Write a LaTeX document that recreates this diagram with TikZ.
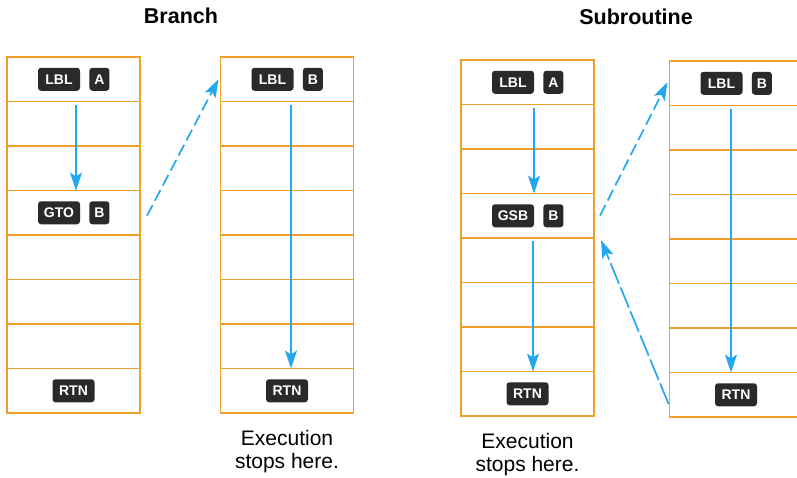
\documentclass[tikz,border=0pt]{standalone}
\usepackage{fontspec}
\setsansfont{Liberation Sans}
\usetikzlibrary{arrows.meta,positioning,calc}
\definecolor{oc}{RGB}{240,160,40}
\definecolor{bc}{RGB}{35,168,240}
\definecolor{kc}{RGB}{42,42,42}
\tikzset{cell/.style={draw=oc,line width=1.8pt,minimum width=133pt,minimum height=44.5pt,inner sep=0pt,outer sep=0pt},
 key/.style={fill=kc,rounded corners=3pt,text=white,font=\sffamily\bfseries\fontsize{14}{16}\selectfont,
  minimum height=23pt,minimum width=42pt,inner xsep=3pt,text height=10pt,text depth=0pt},
 ltr/.style={key,minimum width=20pt},
 flow/.style={draw=bc,line width=1.7pt,-{Stealth[length=18pt,width=12pt,inset=4pt]},shorten <=3pt},
 jump/.style={flow,dash pattern=on 12pt off 5pt,shorten <=0pt},
 back/.style={jump,dash pattern=on 22pt off 4pt},
 ttl/.style={font=\sffamily\bfseries\fontsize{21.5}{24}\selectfont},
 note/.style={font=\sffamily\fontsize{21}{23.5}\selectfont,align=center,inner sep=0pt}}
\begin{document}
\begin{tikzpicture}[x=1pt,y=-1pt]
\useasboundingbox (0,0) rectangle (797,477);
\clip (0,0) rectangle (797,477);
\node[ttl] (tb) at (181,16) {Branch};
\node[ttl] (ts) at (636,17) {Subroutine};
% program memory columns
\foreach \c/\x/\y in {ba/73.5/57,bb/287/57,sa/527.5/60,sb/736/61}{
 \foreach \i in {1,...,8}{\node[cell] (\c\i) at (\x,{\y+44.5*(\i-0.5)}) {};}}
% keys
\node[key,xshift=-14.5pt] (ka) at (ba1) {LBL}; \node[ltr,right=9pt of ka] {A};
\node[key,xshift=-14.5pt] (kg) at (ba4) {GTO}; \node[ltr,right=9pt of kg] {B};
\node[key] at (ba8) {RTN};
\node[key,xshift=-14.5pt] (kb) at (bb1) {LBL}; \node[ltr,right=9pt of kb] {B};
\node[key] at (bb8) {RTN};
\node[key,xshift=-14.5pt] (kc) at (sa1) {LBL}; \node[ltr,right=9pt of kc] {A};
\node[key,xshift=-14.5pt] (kd) at (sa4) {GSB}; \node[ltr,right=9pt of kd] {B};
\node[key] at (sa8) {RTN};
\node[key,xshift=-14.5pt] (ke) at (sb1) {LBL}; \node[ltr,right=9pt of ke] {B};
\node[key] at (sb8) {RTN};
\node[note,below=17pt of bb8] (nb) {Execution\\stops here.};
\node[note,below=17pt of sa8] (ns) {Execution\\stops here.};
% execution paths
\foreach \u/\v/\d in {ba1/ba4/2.5,bb1/bb8/4,sa1/sa4/6.5,sa4/sa8/5.5,sb1/sb8/-5}{
 \draw[flow] ($(\u.south)+(\d,0)$)--($(\v.north)+(\d,0)$);}
\draw[jump] ($(ba4.east)+(7,3)$)--($(bb1.west)+(-2,0)$);
\draw[jump] ($(sa4.east)+(6,0)$)--($(sb1.west)+(-2,-1)$);
\draw[back] ($(sb8.west)+(-1,9)$)--($(sa4.south east)+(7,2)$);
\end{tikzpicture}
\end{document}
